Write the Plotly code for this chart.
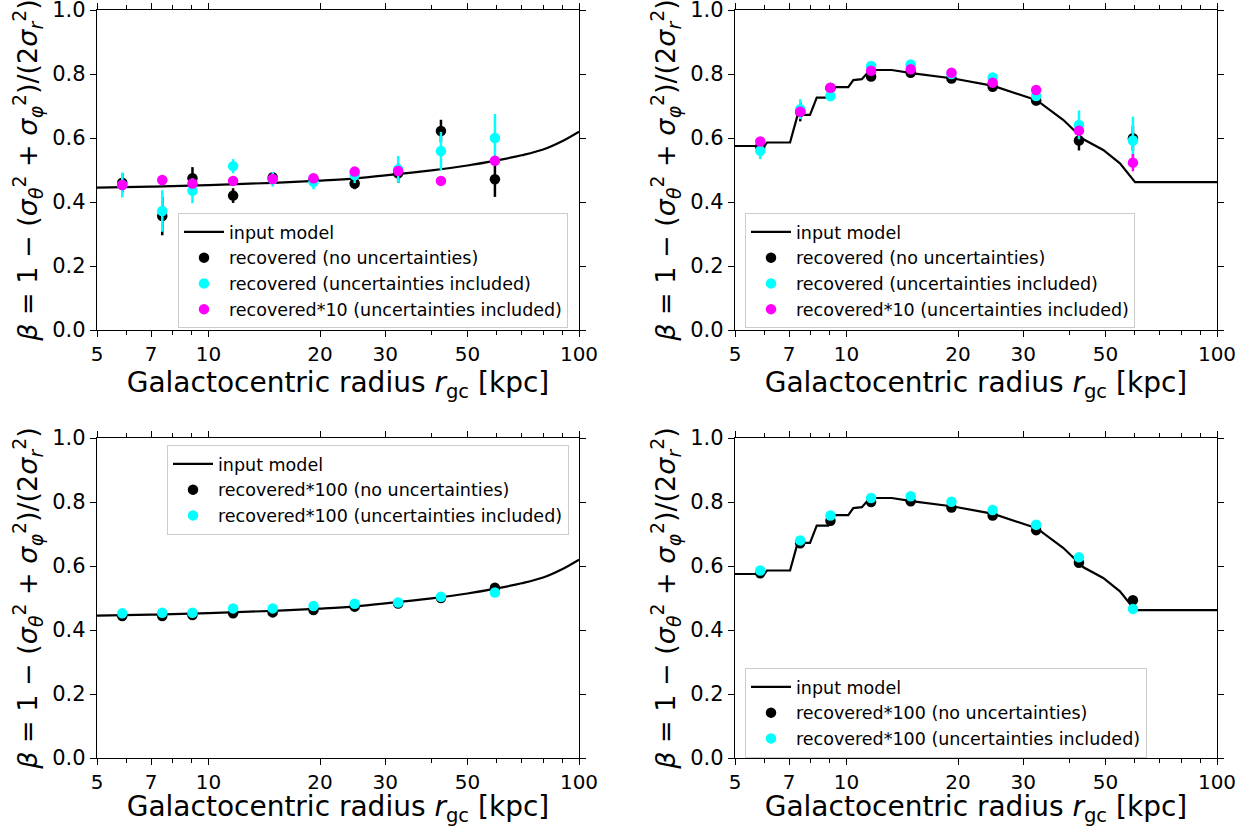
import plotly.graph_objects as go

# ---------------- data ----------------
r_bins = [5.85, 7.5, 9.05, 11.65, 14.9, 19.2, 24.8, 32.5, 42.4, 59.3]

# smooth model (top-left / bottom-left)
model_a_r = [5, 7, 10, 15, 20, 25, 30, 40, 50, 60, 70, 80, 90, 100]
model_a_beta = [0.445, 0.448, 0.453, 0.460, 0.467, 0.474, 0.483, 0.499, 0.514,
                0.530, 0.546, 0.564, 0.590, 0.620]

# stepped model (top-right / bottom-right)
model_b_r = [5, 6.0, 6.1, 7.04, 7.38, 7.97, 8.31, 8.93, 9.19, 10.11, 10.43, 11.0,
             11.57, 13.24, 15.14, 19.42, 24.9, 32.6, 38.5, 43.6, 49.3, 54.7, 60.1, 100]
model_b_beta = [0.575, 0.575, 0.586, 0.586, 0.672, 0.672, 0.726, 0.726, 0.759, 0.759,
                0.781, 0.784, 0.8125, 0.8125, 0.802, 0.786, 0.763, 0.718, 0.656,
                0.596, 0.5625, 0.521, 0.462, 0.462]

# top-left
tl_black = [0.460, 0.356, 0.474, 0.420, 0.477, 0.470, 0.458, 0.490, 0.622, 0.471]
tl_black_err = [0.030, 0.060, 0.035, 0.023, 0.015, 0.012, 0.018, 0.030, 0.035, 0.055]
tl_cyan = [0.453, 0.372, 0.435, 0.512, 0.471, 0.463, 0.484, 0.502, 0.559, 0.600]
tl_cyan_err = [0.039, 0.065, 0.039, 0.022, 0.023, 0.023, 0.025, 0.042, 0.060, 0.075]
tl_mag = [0.453, 0.469, 0.458, 0.466, 0.472, 0.474, 0.495, 0.497, 0.466, 0.529]
tl_mag_err = [0.008, 0.008, 0.008, 0.008, 0.008, 0.008, 0.008, 0.008, 0.008, 0.012]

# top-right
tr_black = [0.573, 0.682, 0.756, 0.792, 0.804, 0.786, 0.760, 0.717, 0.592, 0.599]
tr_black_err = [0.015, 0.030, 0.012, 0.010, 0.010, 0.010, 0.012, 0.015, 0.031, 0.039]
tr_cyan = [0.560, 0.690, 0.731, 0.825, 0.830, 0.800, 0.789, 0.731, 0.641, 0.592]
tr_cyan_err = [0.026, 0.031, 0.016, 0.010, 0.010, 0.010, 0.012, 0.015, 0.045, 0.075]
tr_mag = [0.589, 0.682, 0.757, 0.810, 0.815, 0.804, 0.773, 0.750, 0.623, 0.523]
tr_mag_err = [0.010, 0.010, 0.008, 0.006, 0.006, 0.006, 0.006, 0.008, 0.015, 0.027]

# bottom-left
bl_black = [0.444, 0.444, 0.447, 0.452, 0.455, 0.4625, 0.473, 0.483, 0.500, 0.532]
bl_cyan = [0.452, 0.454, 0.454, 0.4675, 0.4675, 0.475, 0.482, 0.486, 0.504, 0.517]
# bottom-right
br_black = [0.577, 0.671, 0.7415, 0.800, 0.802, 0.783, 0.758, 0.712, 0.610, 0.493]
br_cyan = [0.586, 0.680, 0.758, 0.8125, 0.818, 0.801, 0.775, 0.729, 0.627, 0.466]
small_err = [0.003] * 10

x_major = [5, 7, 10, 20, 30, 50, 100]
x_minor = [6, 8, 9, 40, 60, 70, 80, 90]
y_ticks = [0.0, 0.2, 0.4, 0.6, 0.8, 1.0]

FONT = "DejaVu Sans"
W, H = 1251, 827

fig = go.Figure()

panels = [
    # (xaxis id, yaxis id, legend id, x px range, y px range)
    ("x", "y", "legend", (97, 579), (10, 330)),
    ("x2", "y2", "legend2", (735, 1217), (10, 330)),
    ("x3", "y3", "legend3", (97, 579), (438, 758)),
    ("x4", "y4", "legend4", (735, 1217), (438, 758)),
]


def add_model(p, r, b):
    xa, ya, lg = panels[p][0], panels[p][1], panels[p][2]
    fig.add_trace(go.Scatter(x=r, y=b, mode="lines", name="input model",
                             line=dict(color="black", width=2.2,
                                       shape="spline" if p in (0, 2) else "linear"),
                             xaxis=xa, yaxis=ya, legend=lg))


def add_pts(p, y, err, color, name):
    xa, ya, lg = panels[p][0], panels[p][1], panels[p][2]
    fig.add_trace(go.Scatter(x=r_bins, y=y, mode="markers", name=name,
                             marker=dict(color=color, size=10.5),
                             error_y=dict(type="data", array=err, color=color,
                                          thickness=2.5, width=0),
                             xaxis=xa, yaxis=ya, legend=lg))


add_model(0, model_a_r, model_a_beta)
add_pts(0, tl_black, tl_black_err, "black", "recovered (no uncertainties)")
add_pts(0, tl_cyan, tl_cyan_err, "#00ffff", "recovered (uncertainties included)")
add_pts(0, tl_mag, tl_mag_err, "#ff00ff", "recovered*10 (uncertainties included)")

add_model(1, model_b_r, model_b_beta)
add_pts(1, tr_black, tr_black_err, "black", "recovered (no uncertainties)")
add_pts(1, tr_cyan, tr_cyan_err, "#00ffff", "recovered (uncertainties included)")
add_pts(1, tr_mag, tr_mag_err, "#ff00ff", "recovered*10 (uncertainties included)")

add_model(2, model_a_r, model_a_beta)
add_pts(2, bl_black, small_err, "black", "recovered*100 (no uncertainties)")
add_pts(2, bl_cyan, small_err, "#00ffff", "recovered*100 (uncertainties included)")

add_model(3, model_b_r, model_b_beta)
add_pts(3, br_black, small_err, "black", "recovered*100 (no uncertainties)")
add_pts(3, br_cyan, small_err, "#00ffff", "recovered*100 (uncertainties included)")

ytitle = ("<i>β</i> = 1 − (<i>σ</i><sub><i>θ</i></sub><sup>2</sup> + "
          "<i>σ</i><sub><i>φ</i></sub><sup>2</sup>)/(2<i>σ</i><sub><i>r</i></sub><sup>2</sup>)")
xtitle = "Galactocentric radius <i>r</i><sub>gc</sub> [kpc]"

layout = dict(
    width=W, height=H,
    margin=dict(l=0, r=0, t=0, b=0, autoexpand=False),
    paper_bgcolor="white", plot_bgcolor="white",
    font=dict(family=FONT, color="black", size=20),
    showlegend=True,
)

legend_pos = {
    "legend": (178, 213),
    "legend2": (745, 213),
    "legend3": (167, 445),
    "legend4": (745, 668),
}

for (xa, ya, lg, (x0, x1), (y0, y1)) in panels:
    xkey = "xaxis" if xa == "x" else "xaxis" + xa[1:]
    ykey = "yaxis" if ya == "y" else "yaxis" + ya[1:]
    layout[xkey] = dict(
        type="log", range=[0.69897, 2.0], domain=[x0 / W, x1 / W],
        anchor=ya, tickvals=x_major, ticktext=[str(v) for v in x_major],
        ticks="outside", ticklen=6, tickwidth=1.3, tickcolor="black",
        minor=dict(tickvals=x_minor, ticks="outside", ticklen=3.5, tickwidth=1,
                   tickcolor="black", showgrid=False),
        showline=True, linecolor="black", linewidth=1.3, mirror="ticks",
        showgrid=False, zeroline=False, automargin=False,
        ticklabeloverflow="allow",
        tickfont=dict(size=20, family=FONT, color="black"),
        title=dict(text=xtitle, font=dict(size=28, family=FONT, color="black"),
                   standoff=6),
    )
    layout[ykey] = dict(
        range=[0, 1], domain=[1 - y1 / H, 1 - y0 / H], anchor=xa,
        tickvals=y_ticks, ticktext=["%.1f" % v for v in y_ticks],
        ticks="outside", ticklen=6, tickwidth=1.3, tickcolor="black",
        showline=True, linecolor="black", linewidth=1.3, mirror="ticks",
        showgrid=False, zeroline=False, automargin=False,
        ticklabeloverflow="allow",
        tickfont=dict(size=21, family=FONT, color="black"),
        title=dict(text=ytitle, font=dict(size=27, family=FONT, color="black"),
                   standoff=6),
    )
    lx, ly = legend_pos[lg]
    layout[lg] = dict(
        x=lx / W, y=1 - ly / H, xanchor="left", yanchor="top",
        xref="paper", yref="paper",
        bgcolor="rgba(255,255,255,0.85)", bordercolor="#cccccc", borderwidth=1,
        font=dict(size=17.5, family=FONT, color="black"),
        itemwidth=40, tracegroupgap=2,
    )

fig.update_layout(**layout)
fig.write_html("out.html")
